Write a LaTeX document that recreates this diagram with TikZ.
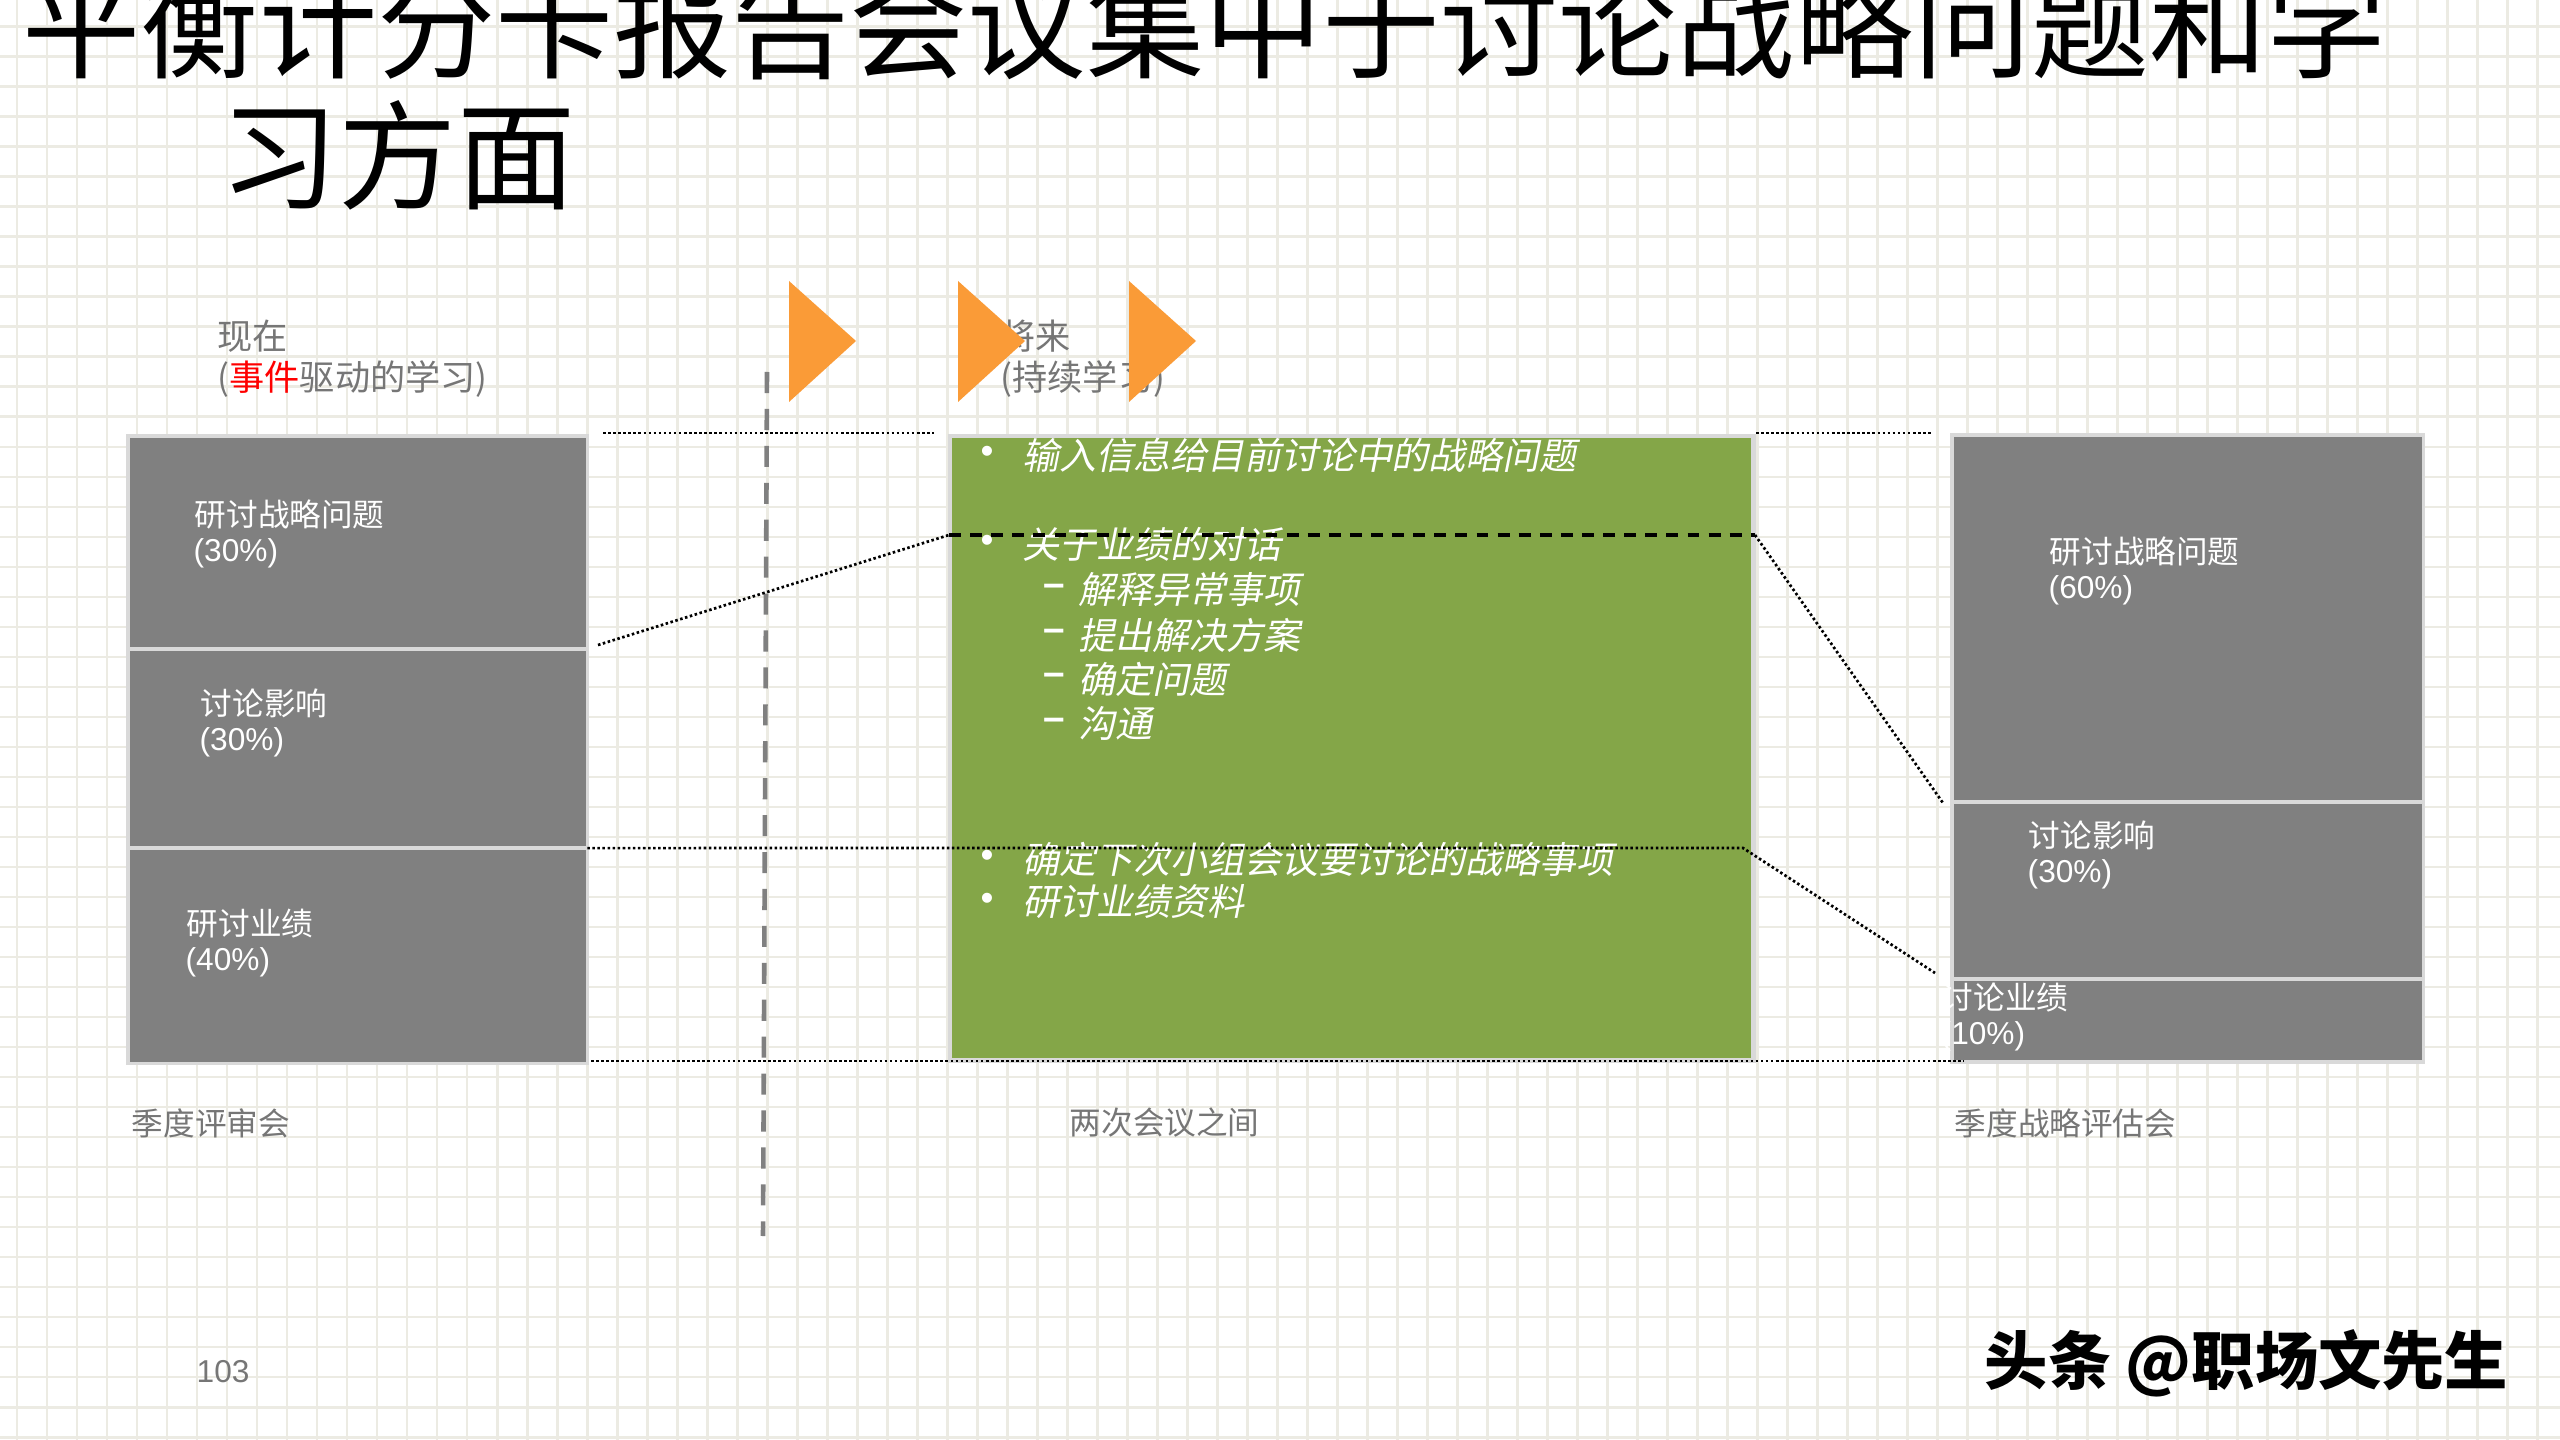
\documentclass[tikz,border=0pt]{standalone}
\usepackage{fontspec}
\setmainfont{Liberation Sans}
\newfontfamily\cjk{Noto Sans CJK SC}
\newfontfamily\cjkit[FakeSlant=0.2]{Noto Sans CJK SC}
\newfontfamily\arialf{Liberation Sans}
\definecolor{gridc}{RGB}{236,235,227}
\definecolor{lgray}{RGB}{217,217,217}
\definecolor{midgray}{RGB}{128,128,128}
\definecolor{labelgray}{RGB}{118,118,118}
\definecolor{greenbox}{RGB}{132,166,72}
\definecolor{arroworange}{RGB}{250,155,55}
\definecolor{evred}{RGB}{255,0,0}
\tikzset{
  gridln/.style={draw=gridc, line width=0.85pt},
  seg/.style={draw=lgray, fill=midgray, line width=0.9pt, anchor=north west, inner sep=0pt, outer sep=0pt},
  gbox/.style={draw=lgray, fill=greenbox, line width=1.4pt, anchor=north west, inner sep=0pt, outer sep=0pt},
  titletxt/.style={anchor=west, inner sep=0pt, text=black, font=\cjk\fontsize{33.6pt}{38pt}\selectfont},
  lbl/.style={anchor=west, inner sep=0pt, text=labelgray, font=\cjk\fontsize{10pt}{12pt}\selectfont},
  botlbl/.style={anchor=west, inner sep=0pt, text=labelgray, font=\cjk\fontsize{9pt}{11pt}\selectfont},
  boxtxt/.style={anchor=west, inner sep=0pt, text=white, font=\cjk\fontsize{9pt}{11pt}\selectfont},
  pct/.style={anchor=west, inner sep=0pt, text=white, font=\arialf\fontsize{9pt}{11pt}\selectfont},
  gtxt/.style={anchor=west, inner sep=0pt, text=white, font=\cjkit\fontsize{10.5pt}{12pt}\selectfont},
  gmark/.style={anchor=center, inner sep=0pt, text=white, font=\arialf\fontsize{10.5pt}{12pt}\selectfont},
  gdash/.style={anchor=center, inner sep=0pt, text=white, font=\arialf\bfseries\fontsize{11pt}{12pt}\selectfont},
  dotln/.style={draw=black, line width=0.77pt, dash pattern=on 0.72pt off 0.72pt},
  thickdash/.style={draw=black, line width=0.95pt, dash pattern=on 3.4pt off 2.6pt},
  vdash/.style={draw=midgray, line width=1.3pt, dash pattern=on 6pt off 4.5pt},
  arrowtri/.style={fill=arroworange},
}
\begin{document}
\begin{tikzpicture}[x=0.01cm, y=-0.01cm]
\useasboundingbox (0,0) rectangle (2560,1440);
\clip (0,0) rectangle (2560,1440);
\fill[white] (0,0) rectangle (2560,1440);
% background grid
\foreach \i in {0,...,85} { \draw[gridln] ({17+30*\i},0) -- ({17+30*\i},1440); }
\foreach \j in {0,...,47} { \draw[gridln] (0,{27+30*\j}) -- (2560,{27+30*\j}); }

% title
\node[titletxt] (t1) at (22,25) {平衡计分卡报告会议集中于讨论战略问题和学};
\node[titletxt] (t2) at (220,155) {习方面};

% vertical dashed separator
\coordinate (vtop) at (767,372);
\coordinate (vbot) at (763,1236);
\draw[vdash] (vtop) -- (vbot);

% left stacked box
\node[seg, minimum width=4.59cm, minimum height=2.13cm] (L1) at (128,436) {};
\node[seg, minimum width=4.59cm, minimum height=1.99cm] (L2) at (128,649) {};
\node[seg, minimum width=4.59cm, minimum height=2.15cm] (L3) at (128,848) {};

% green box
\node[gbox, minimum width=8.03cm, minimum height=6.24cm] (G) at (950,436) {};

% right stacked box
\node[seg, minimum width=4.71cm, minimum height=3.67cm] (R1) at (1952,435) {};
\node[seg, minimum width=4.71cm, minimum height=1.77cm] (R2) at (1952,802) {};
\node[seg, minimum width=4.71cm, minimum height=0.83cm] (R3) at (1952,979) {};

% connector coordinates
\coordinate (gA) at (949,535);
\coordinate (gB) at (1755,535);
\coordinate (d1s) at (598,645);
\coordinate (r1e) at (1943,803);
\coordinate (m2) at (1743,848);
\coordinate (r2e) at (1935,973);
\coordinate (tl1) at (603,433);
\coordinate (tl2) at (934,433);
\coordinate (tr1) at (1756,433);
\coordinate (tr2) at (1933,433);
\coordinate (b1) at (591,1061);
\coordinate (b2) at (1964,1061);

% left box texts
\node[boxtxt] (l1a) at (194,514) {研讨战略问题};
\node[pct] (l1b) at (193,553) {(30\%)};
\node[boxtxt] (l2a) at (200,703) {讨论影响};
\node[pct] (l2b) at (199,742) {(30\%)};
\node[boxtxt] (l3a) at (186,924) {研讨业绩};
\node[pct] (l3b) at (185,962) {(40\%)};

% right box texts
\node[boxtxt] (r1a) at (2049,551) {研讨战略问题};
\node[pct] (r1b) at (2048,590) {(60\%)};
\node[boxtxt] (r2a) at (2028,835) {讨论影响};
\node[pct] (r2b) at (2027,874) {(30\%)};
\node[boxtxt] (r3a) at (1941,997) {讨论业绩};
\node[pct] (r3b) at (1940,1036) {(10\%)};

% green box texts
\node[gmark] (gb1) at (987,455) {•};
\node[gtxt] (g1) at (1022,455) {输入信息给目前讨论中的战略问题};
\node[gmark] (gb2) at (987,544) {•};
\node[gtxt] (g2) at (1022,544) {关于业绩的对话};
\node[gdash] (gd1) at (1054,590) {–};
\node[gtxt] (g3) at (1078,590) {解释异常事项};
\node[gdash] (gd2) at (1054,635) {–};
\node[gtxt] (g4) at (1078,635) {提出解决方案};
\node[gdash] (gd3) at (1054,679) {–};
\node[gtxt] (g5) at (1078,679) {确定问题};
\node[gdash] (gd4) at (1054,724) {–};
\node[gtxt] (g6) at (1078,724) {沟通};
\node[gmark] (gb3) at (987,859) {•};
\node[gtxt] (g7) at (1022,859) {确定下次小组会议要讨论的战略事项};
\node[gmark] (gb4) at (987,902) {•};
\node[gtxt] (g8) at (1022,902) {研讨业绩资料};

% connectors
\draw[thickdash] (gA) -- (gB);
\draw[dotln] (d1s) -- (gA);
\draw[dotln] (gB) -- (r1e);
\draw[dotln] (L2.south east) -- (m2) -- (r2e);
\draw[dotln] (tl1) -- (tl2);
\draw[dotln] (tr1) -- (tr2);
\draw[dotln] (b1) -- (b2);

% header labels
\node[lbl] (now1) at (217,336) {现在};
\node[lbl] (now2) at (217,379) {(\textcolor{evred}{事件}驱动的学习)};
\node[lbl] (fut1) at (1000,336) {将来};
\node[lbl] (fut2) at (1000,379) {(持续学习)};

% orange arrows
\fill[arrowtri] (789,281) -- (856,341) -- (789,402) -- cycle;
\fill[arrowtri] (958,281) -- (1025,341) -- (958,402) -- cycle;
\fill[arrowtri] (1129,281) -- (1196,341) -- (1129,402) -- cycle;

% bottom labels
\node[botlbl] (q1) at (131,1123) {季度评审会};
\node[botlbl] (q2) at (1069,1123) {两次会议之间};
\node[botlbl] (q3) at (1954,1123) {季度战略评估会};
\node[anchor=west, inner sep=0pt, text=labelgray, font=\arialf\fontsize{9pt}{11pt}\selectfont] (pg) at (196,1372) {103};

% watermark
\node[anchor=west, inner sep=0pt, text=black, font=\cjk\bfseries\fontsize{18pt}{20pt}\selectfont] (wm) at (1984,1363) {头条 @职场文先生};
\end{tikzpicture}
\end{document}
